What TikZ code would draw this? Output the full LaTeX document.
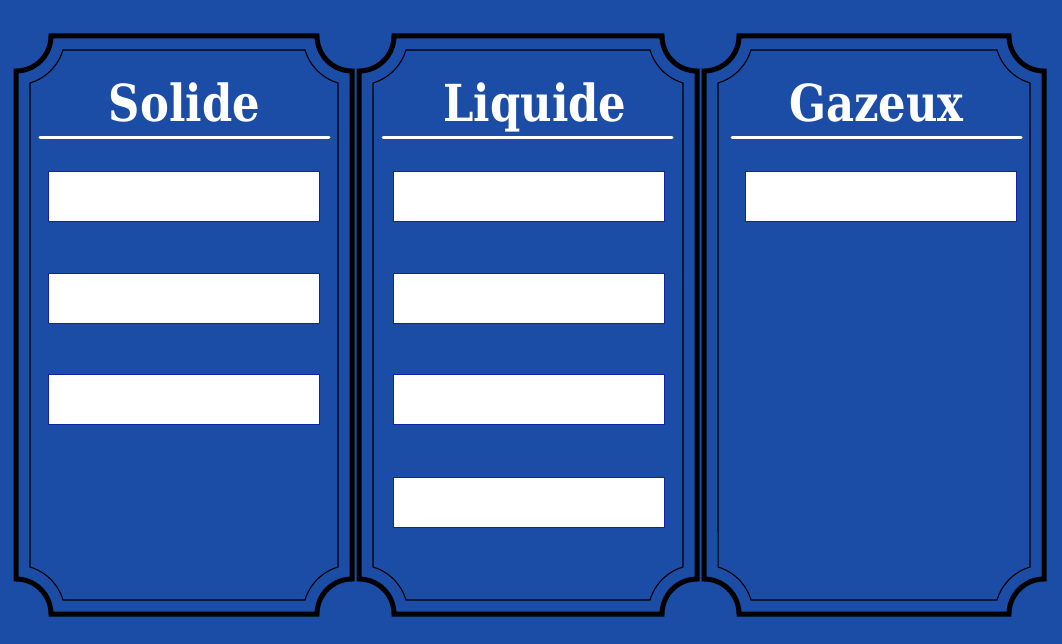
\documentclass[tikz,border=0pt]{standalone}
\usepackage{fontspec}
\newfontfamily\titlefont{DejaVu Serif}
\definecolor{bg}{RGB}{27,76,166}
\definecolor{boxedge}{RGB}{22,30,170}
\newcommand\headtext[1]{\scalebox{0.85}[1]{#1}}
\tikzset{
  outer/.style={line width=5pt,draw=black},
  inner/.style={line width=1.1pt,draw=black},
  title/.style={text=white,font=\titlefont\bfseries\fontsize{51}{51}\selectfont,anchor=base,inner sep=0pt},
  rule/.style={draw=white,line width=3pt,line cap=round},
  slot/.style={fill=white,draw=boxedge,line width=1pt,minimum width=271pt,minimum height=50pt,inner sep=0pt}
}
\begin{document}
\begin{tikzpicture}[x=1pt,y=-1pt]
  \fill[bg] (0,0) rectangle (1062,644);
  \useasboundingbox (0,0) rectangle (1062,644);
  % ticket frames: top 36, bottom 614
  \foreach \l/\r in {16/352,359/697,704/1044} {
    \draw[outer] ({\l+35},36) -- ({\r-35},36) arc (180:90:35)
      -- (\r,579) arc (270:180:35) -- ({\l+35},614) arc (0:-90:35)
      -- (\l,71) arc (90:0:35) -- cycle;
    \draw[inner] ({\l+47},50) -- ({\r-47},50) arc (163.4:106.6:49)
      -- ({\r-14},567) arc (253.4:196.6:49) -- ({\l+47},600) arc (-16.6:-73.4:49)
      -- ({\l+14},83) arc (73.4:16.6:49) -- cycle;
  }
  % headings
  \node[title] (t1) at (184.5,122) {\headtext{Solide}};
  \node[title] (t2) at (535,122) {\headtext{Liquide}};
  \node[title] (t3) at (876.5,122) {\headtext{Gazeux}};
  \draw[rule] (40,138) -- (329,138);
  \draw[rule] (383,138) -- (672,138);
  \draw[rule] (732,138) -- (1021,138);
  % answer slots
  \foreach \y [count=\i] in {197,298,399} \node[slot] (s\i) at (183.5,\y) {};
  \foreach \y [count=\i] in {197,298,399,502.5} \node[slot] (l\i) at (528.5,\y) {};
  \node[slot] (g1) at (880.5,197) {};
\end{tikzpicture}
\end{document}
